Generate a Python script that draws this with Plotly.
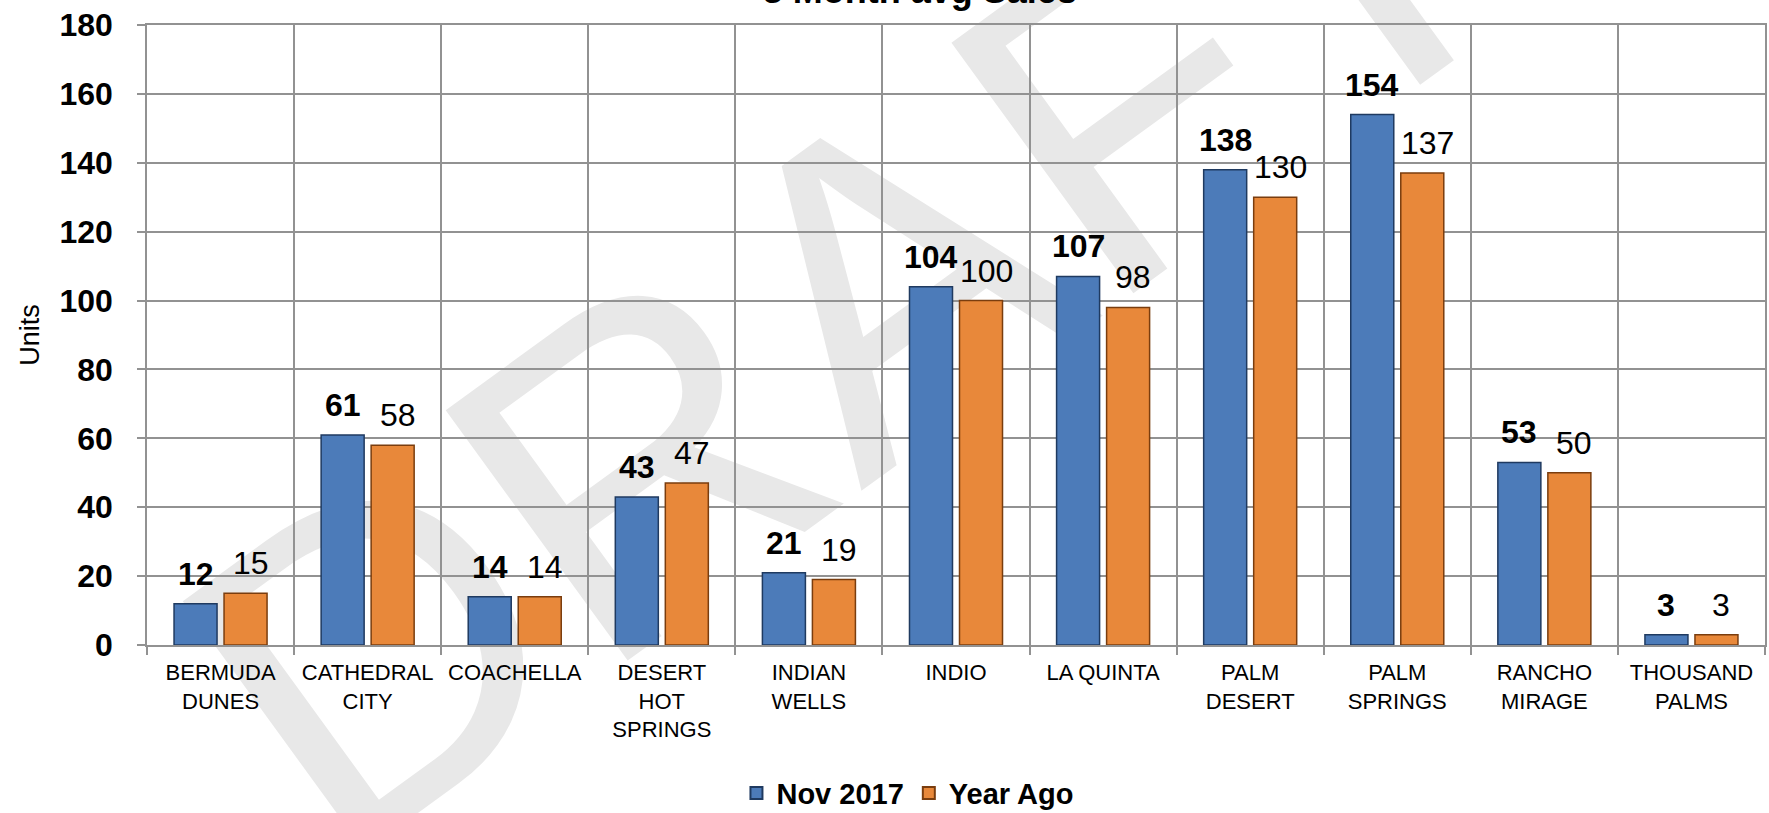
import plotly.graph_objects as go

# ---- data ----
categories = ["BERMUDA DUNES", "CATHEDRAL CITY", "COACHELLA", "DESERT HOT SPRINGS",
              "INDIAN WELLS", "INDIO", "LA QUINTA", "PALM DESERT", "PALM SPRINGS",
              "RANCHO MIRAGE", "THOUSAND PALMS"]
tick_labels = ["BERMUDA<br>DUNES", "CATHEDRAL<br>CITY", "COACHELLA", "DESERT<br>HOT<br>SPRINGS",
               "INDIAN<br>WELLS", "INDIO", "LA QUINTA", "PALM<br>DESERT", "PALM<br>SPRINGS",
               "RANCHO<br>MIRAGE", "THOUSAND<br>PALMS"]
nov_2017 = [12, 61, 14, 43, 21, 104, 107, 138, 154, 53, 3]
year_ago = [15, 58, 14, 47, 19, 100, 98, 130, 137, 50, 3]
y_ticks = [0, 20, 40, 60, 80, 100, 120, 140, 160, 180]

# ---- style ----
FONT = "Liberation Sans, Arial, sans-serif"
BLUE = "#4c7bb9"
BLUE_EDGE = "#1f3a60"
ORANGE = "#e8883a"
ORANGE_EDGE = "#7a3d0e"
GRID = "#929292"

fig = go.Figure()
fig.add_bar(x=categories, y=nov_2017, name="Nov 2017",
            marker=dict(color=BLUE, line=dict(color=BLUE_EDGE, width=1.5)))
fig.add_bar(x=categories, y=year_ago, name="Year Ago",
            marker=dict(color=ORANGE, line=dict(color=ORANGE_EDGE, width=1.5)))

annotations = []
for c, v in zip(categories, nov_2017):
    annotations.append(dict(x=c, y=v, xref="x", yref="y", text=str(v), showarrow=False,
                            xanchor="center", yanchor="bottom", xshift=-25, yshift=10,
                            font=dict(family=FONT, size=32, color="black", weight="bold")))
for c, v in zip(categories, year_ago):
    annotations.append(dict(x=c, y=v, xref="x", yref="y", text=str(v), showarrow=False,
                            xanchor="center", yanchor="bottom", xshift=30, yshift=10,
                            font=dict(family=FONT, size=32, color="black")))

fig.update_layout(
    width=1769, height=813,
    margin=dict(l=147, r=4, t=25, b=168, autoexpand=False),
    paper_bgcolor="white",
    plot_bgcolor="rgba(0,0,0,0)",
    font=dict(family=FONT, color="black"),
    barmode="group",
    bargap=0.32,
    bargroupgap=0.14,
    title=dict(text="3 Month avg Sales", x=0.52, xanchor="center", xref="container",
               y=0.9965, yanchor="bottom", yref="container",
               font=dict(family=FONT, size=36, color="black", weight="bold")),
    showlegend=True,
    legend=dict(orientation="h", x=0.47, xanchor="center", y=-0.239, yanchor="middle",
                font=dict(family=FONT, size=29, color="black", weight="bold"),
                bgcolor="rgba(0,0,0,0)", itemsizing="constant"),
    annotations=annotations,
    shapes=[dict(type="line", xref="paper", yref="paper",
                 x0=0.11, y0=-0.26, x1=0.91, y1=0.80,
                 line=dict(color="rgba(0,0,0,0)", width=0),
                 layer="below",
                 label=dict(text="DRAFT", textangle=-36, textposition="middle",
                            font=dict(family=FONT, size=450, color="#e8e8e8")))],
)

fig.update_xaxes(
    type="category",
    tickmode="array", tickvals=categories, ticktext=tick_labels,
    tickson="boundaries",
    ticks="outside", ticklen=8, tickcolor=GRID, tickwidth=1.5,
    showgrid=True, gridcolor=GRID, gridwidth=1.5,
    showline=True, linecolor=GRID, linewidth=1.5, mirror=True,
    tickfont=dict(family=FONT, size=22, color="black"),
    ticklabelstandoff=7,
    automargin=False,
)
fig.update_yaxes(
    range=[0, 180],
    tickmode="array", tickvals=y_ticks,
    ticks="outside", ticklen=8, tickcolor=GRID, tickwidth=1.5,
    showgrid=True, gridcolor=GRID, gridwidth=1.5,
    showline=True, linecolor=GRID, linewidth=1.5, mirror=True,
    zeroline=False,
    tickfont=dict(family=FONT, size=32, color="black", weight="bold"),
    ticklabelstandoff=18,
    title=dict(text="Units", font=dict(family=FONT, size=27, color="black"), standoff=12),
    automargin=False,
)

fig.write_html("out.html")
